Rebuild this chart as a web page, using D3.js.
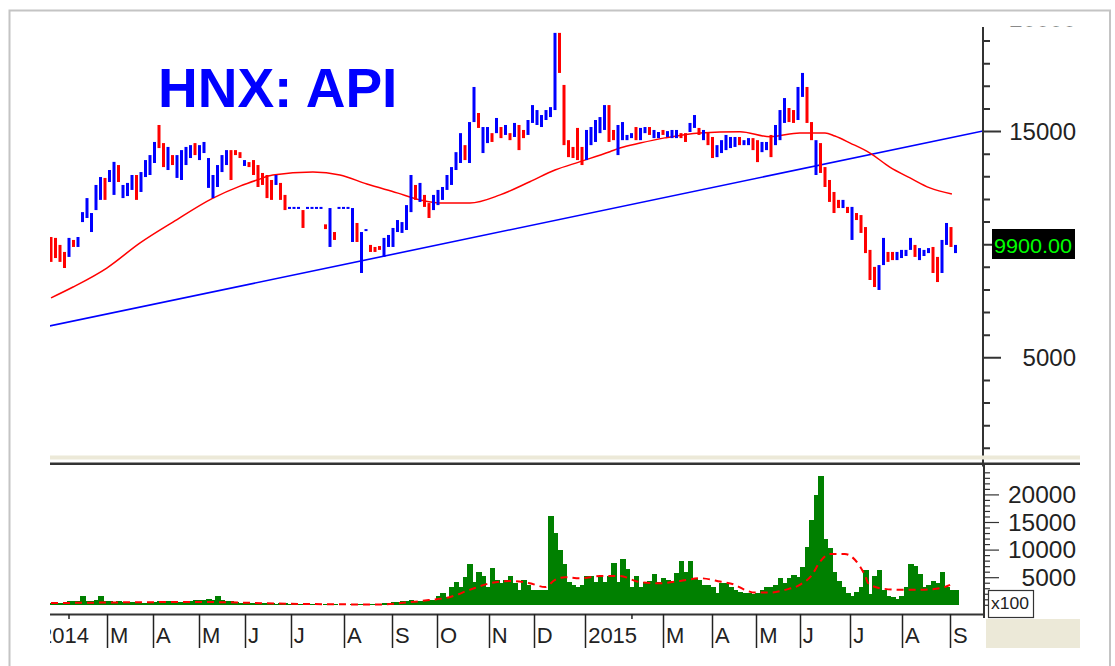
<!DOCTYPE html>
<html><head><meta charset="utf-8">
<script src="https://cdn.jsdelivr.net/npm/d3@7"></script>
<style>html,body{margin:0;padding:0;background:#fff;}svg{display:block;}</style>
</head><body>
<script>
// ---------- DATA ----------
const title = "HNX: API";
const lastPrice = 9900;
// price bars (each bar ≈ 2 sessions): high, low, direction (u = up/blue, d = down/red)
const priceHigh = [10340,10300,9990,9680,10300,10210,10340,11440,12060,11400,12640,12990,12950,13300,13660,13520,12640,12730,13080,13080,
13210,13740,13960,14540,15290,14490,14320,13960,13960,14180,14320,14400,14490,14400,14540,13830,13080,13520,13960,14180,
14180,14180,14090,13740,13650,13740,13520,13170,13080,12860,13080,12730,12200,11670,11670,11670,11530,11670,11670,11670,
11670,10900,11620,10560,11670,11670,11670,11620,10960,10560,10690,9990,9900,9940,10300,10430,10740,11090,11000,11750,
13080,12640,12730,12200,11840,12200,12420,12550,13080,13430,14090,14930,14400,15420,16970,15820,15200,15200,14930,15600,
15200,15290,14930,15380,15290,15070,15510,16170,15950,15730,15950,16080,19360,19360,17060,14620,14320,15160,14320,15070,
15200,15510,15640,16170,16170,15070,15290,15420,14850,14930,15200,15160,15200,15200,15070,14980,15070,15020,15070,15070,
14930,14930,15380,15730,15160,15070,14980,14760,14400,14620,14850,14760,14760,14760,14620,14710,14710,14620,14540,14540,
14850,15290,15950,16480,16040,15950,16970,17590,16970,15420,14620,14490,13430,12860,12330,11980,11980,11670,11670,11400,
11310,10780,9770,9020,9100,10300,9680,9680,9680,9770,9770,10300,9990,9850,9770,9850,9900,9460,10210,10960,10780,9990];
const priceLow = [9240,9410,9240,8970,9460,9900,9900,11000,11180,10560,11530,11980,11980,12770,12200,12770,12060,12150,12420,11980,
12330,12990,13080,13610,14270,13430,13300,13520,12950,12860,13520,13830,13960,13740,14050,12510,12060,12550,13210,13520,
12860,13960,13830,13480,13430,13080,12550,12640,12060,11980,12640,11980,11530,11580,11580,11580,10740,11580,11580,11580,
11580,10690,9900,10210,11580,11580,11580,10120,10120,8750,10610,9680,9680,9770,9460,9900,9900,10560,10520,10650,
11440,11980,11890,11670,11180,11530,11750,11980,12420,12640,13300,13610,13740,13610,15420,15160,14050,14490,14540,14930,
14710,14850,14620,14760,14180,14710,14850,15380,15290,15200,15510,15640,15950,17590,14400,13870,13830,13740,13520,13740,
14400,14540,14930,15070,14540,14620,13960,14620,14620,14710,14620,14620,14930,14850,14710,14710,14850,14760,14710,14710,
14710,14540,14980,15160,14850,14620,14400,13830,13870,14050,14180,14270,14320,14400,14400,14400,14180,13650,14090,14180,
13870,14400,14620,15380,15420,15380,15510,16530,15380,14620,13080,13170,12550,11890,11400,11620,11620,11400,10210,11090,
10520,9630,8440,8130,8000,9100,9240,9320,9320,9410,9500,9770,9460,9320,9500,9630,8750,8350,8750,9990,9900,9630];
const priceDir = ["dddduduuuu","uuduuduuud","uuuudduduu","uuduuuuuuu","dddudddddd",
"udduuuduuu","ududuuuudu","uddduuuuuu","ududduuuuu","uuduuduudu",
"dududduuuu","uuuddddddu","uuuudduuuu","duuduuduuu","dduududduu",
"uuuduudduu","duuudduudd","udddddudud","dddduudduu","uuduuudduu","du"].join("").split("");
// volume per bar (axis unit x100)
const volume = [500,500,450,500,700,700,800,1700,800,700,900,1700,800,700,600,700,600,500,600,500,
500,500,600,600,700,800,700,700,600,600,700,800,900,900,1000,1200,1000,1700,900,700,
700,600,500,400,400,400,400,500,400,400,300,400,400,200,150,150,250,150,150,150,
100,200,300,200,100,100,100,200,200,300,150,150,150,200,400,500,600,600,700,800,
900,700,700,800,900,1000,1700,2200,1500,3300,4300,3300,5100,7500,4300,6100,5300,3400,6800,4600,
4000,4600,5300,4000,2800,4600,3700,2800,2800,2800,2800,16200,13100,10000,7500,4300,3700,3300,3700,5300,
5300,4300,5300,4300,5300,7600,4300,8400,6600,3300,5300,3300,4300,4400,5700,4300,5000,4600,4400,5800,
8000,6000,8000,5000,4600,3700,3700,3300,2200,4000,4000,3300,2800,2500,2200,2200,2000,2200,2800,3300,
3300,3700,4900,4000,4900,5500,5200,7000,10600,15500,20000,23400,12000,10400,6000,4400,3300,2200,1600,2500,
3300,6400,2000,5300,6400,2800,1700,1500,1100,1600,3300,7500,7100,5700,3300,3700,4400,4000,6000,3300,2800,2800];
// moving averages read at points [bar, value]
const priceMA = [[0,7650],[4.9,8130],[12.4,8970],[19.8,10080],[27.1,11000],[36,12060],[42,12590],[45.8,12860],[49.3,13080],[58.2,13210],[64.2,13080],[70.2,12680],[76.9,12290],[82,11980],[86.4,11840],[93.1,11840],[99.8,12200],[106.4,12780],[112,13300],[117.6,13670],[124.2,14110],[126.4,14270],[130.9,14490],[136.4,14720],[144.2,14940],[153.1,14990],[159.8,14770],[166.4,14940],[172,14940],[174.2,14800],[177.6,14490],[182,14050],[186.4,13430],[190.9,12950],[195.3,12510],[200.2,12240]];
const volumeMA = [[0,400],[33,600],[55,250],[73,150],[77.6,400],[84,950],[88.7,1500],[93,2800],[97.6,4000],[102,4400],[106.4,4000],[109.8,3300],[112,4600],[114.2,5100],[117.6,4900],[122,5300],[126.4,5300],[130.9,4200],[135.3,4000],[139.8,4400],[144.2,4900],[148.7,4300],[152,3700],[154.2,2800],[156.4,2300],[159.8,2300],[163.1,2800],[166.4,3700],[169.1,5500],[170.9,7900],[173.1,9300],[176.4,9300],[178.7,8200],[179.8,7000],[181,5200],[181.6,4000],[184.2,3100],[188.7,2800],[193.1,2800],[197.6,3100],[199.8,3700]];
// trend line anchor points [bar, value]
const trendLine = [[0,6420],[200,14730]];
// month labels at bar positions
const monthTicks = [[-3.1,"2014"],[12.44,"M"],[22.67,"A"],[32.89,"M"],[43.1,"J"],[53.3,"J"],[65.1,"A"],[75.8,"S"],[85.8,"O"],[97.3,"N"],[107.3,"D"],[118.7,"2015"],[136,"M"],[146.9,"A"],[156.7,"M"],[166.4,"J"],[177.6,"J"],[189.1,"A"],[199.8,"S"]];
const smallTicks = [4.0,129.1];
const priceTickLabels = [5000,15000,20000];
const volumeTickLabels = [5000,10000,15000,20000];

// ---------- LAYOUT ----------
const W=1115,H=666;
const FONT = "'Liberation Sans', Arial, sans-serif";
const svg = d3.select("body").append("svg").attr("width",W).attr("height",H);
svg.append("rect").attr("width",W).attr("height",H).attr("fill","#fff");
svg.append("rect").attr("x",9.5).attr("y",10.5).attr("width",1100.5).attr("height",700).attr("fill","none").attr("stroke","#c4c4c4").attr("stroke-width",2);

const plotL=50, plotR=983;
const x = d3.scaleLinear().domain([0,201]).range([51,955.5]);
const yP = d3.scaleLinear().domain([0,20000]).range([471,18.4]);
const yV = d3.scaleLinear().domain([0,20000]).range([605.3,494.9]);

const defs = svg.append("defs");
defs.append("clipPath").attr("id","cp").append("rect").attr("x",plotL).attr("y",27).attr("width",plotR-plotL).attr("height",430);
defs.append("clipPath").attr("id","cv").append("rect").attr("x",plotL).attr("y",466).attr("width",plotR-plotL).attr("height",146);
defs.append("clipPath").attr("id","cx").append("rect").attr("x",plotL).attr("y",612).attr("width",plotR-plotL).attr("height",40);
defs.append("clipPath").attr("id","ca").append("rect").attr("x",plotR-2).attr("y",26.5).attr("width",130).attr("height",440);

// title
svg.append("text").attr("x",158).attr("y",107).attr("fill","#0000ff").attr("font-family",FONT)
  .attr("font-weight","bold").attr("font-size",55).text(title);

// ---------- PRICE PANEL ----------
const gp = svg.append("g").attr("clip-path","url(#cp)");
// trend line
const tSlope = (trendLine[1][1]-trendLine[0][1])/(trendLine[1][0]-trendLine[0][0]);
const tx0 = x.invert(plotL-2), tx1 = x.invert(plotR);
gp.append("line").attr("x1",x(tx0)).attr("y1",yP(trendLine[0][1]+tSlope*(tx0-trendLine[0][0])))
  .attr("x2",x(tx1)).attr("y2",yP(trendLine[0][1]+tSlope*(tx1-trendLine[0][0])))
  .attr("stroke","#0000ff").attr("stroke-width",1.6);
// MA
gp.append("path").datum(priceMA).attr("fill","none").attr("stroke","#ff0000").attr("stroke-width",1.5)
  .attr("d",d3.line().x(d=>x(d[0])).y(d=>yP(d[1])).curve(d3.curveMonotoneX));
// bars
const bars = priceHigh.map((h,i)=>({i,h,l:priceLow[i],d:priceDir[i]}));
gp.selectAll("rect.bar").data(bars).join("rect").attr("class","bar")
  .attr("x",d=>x(d.i)-1.5).attr("width",3)
  .attr("y",d=>yP(d.h)).attr("height",d=>Math.max(2,yP(d.l)-yP(d.h)))
  .attr("fill",d=>d.d==="u"?"#0000ff":"#ff0000");

// price axis
const ga = svg.append("g").attr("clip-path","url(#ca)");
ga.append("line").attr("x1",plotR).attr("x2",plotR).attr("y1",27).attr("y2",470).attr("stroke","#333").attr("stroke-width",2);
ga.selectAll("line.mt").data(d3.range(1000,20001,1000)).join("line").attr("class","mt")
  .attr("x1",plotR).attr("x2",d=>plotR+(d%5000===0?18:7)).attr("y1",d=>yP(d)).attr("y2",d=>yP(d))
  .attr("stroke","#333").attr("stroke-width",2);
ga.selectAll("text.pl").data(priceTickLabels).join("text").attr("class","pl")
  .attr("x",1076).attr("y",d=>yP(d)+8.5).attr("text-anchor","end").attr("font-family",FONT)
  .attr("font-size",24).attr("fill","#222").text(d=>d);
// last price box
svg.append("rect").attr("x",992).attr("y",229).attr("width",83).attr("height",30).attr("fill","#000");
svg.append("text").attr("x",994).attr("y",yP(lastPrice)+6).attr("font-family",FONT).attr("font-size",21)
  .attr("fill","#00ff00").attr("textLength",78).attr("lengthAdjust","spacingAndGlyphs").text(lastPrice.toFixed(2));

// separator
svg.append("rect").attr("x",plotL).attr("y",455.5).attr("width",1030).attr("height",4).attr("fill","#ece9d8");
svg.append("rect").attr("x",plotL).attr("y",462.5).attr("width",1030).attr("height",2.5).attr("fill","#333");

// ---------- VOLUME PANEL ----------
const gv = svg.append("g").attr("clip-path","url(#cv)");
const step = x(1)-x(0);
gv.selectAll("rect.v").data(volume).join("rect").attr("class","v")
  .attr("x",(d,i)=>x(i)-step/2).attr("width",step+1).attr("shape-rendering","crispEdges")
  .attr("y",d=>yV(d)).attr("height",d=>yV(0)-yV(d)).attr("fill","#008000");
gv.append("path").datum(volumeMA).attr("fill","none").attr("stroke","#ff0000").attr("stroke-width",2)
  .attr("stroke-dasharray","7,5")
  .attr("d",d3.line().x(d=>x(d[0])).y(d=>yV(d[1])).curve(d3.curveMonotoneX));

// volume axis
svg.append("line").attr("x1",plotR+1).attr("x2",plotR+1).attr("y1",465).attr("y2",618).attr("stroke","#333").attr("stroke-width",2);
svg.selectAll("line.vt").data(d3.range(0,25000,1000)).join("line").attr("class","vt")
  .attr("x1",plotR+1).attr("x2",d=>plotR+1+(d%5000===0&&d>0?15:6)).attr("y1",d=>yV(d)).attr("y2",d=>yV(d))
  .attr("stroke","#333").attr("stroke-width",1.2);
svg.selectAll("text.vl").data(volumeTickLabels).join("text").attr("class","vl")
  .attr("x",1076).attr("y",d=>yV(d)+8).attr("text-anchor","end").attr("font-family",FONT)
  .attr("font-size",23).attr("fill","#222").attr("textLength",d=>String(d).length*13.6).attr("lengthAdjust","spacingAndGlyphs").text(d=>d);
// x100 box
svg.append("rect").attr("x",988.5).attr("y",590.5).attr("width",45).attr("height",27).attr("fill","#fff").attr("stroke","#333").attr("stroke-width",1.2);
svg.append("text").attr("x",991).attr("y",609).attr("font-family",FONT).attr("font-size",16).attr("fill","#222")
  .attr("textLength",38).attr("lengthAdjust","spacingAndGlyphs").text("x100");
// bottom-right beige
svg.append("rect").attr("x",986).attr("y",619).attr("width",94).attr("height",29).attr("fill","#ece9d8");

// ---------- X AXIS ----------
svg.append("line").attr("x1",plotL).attr("x2",plotR+1).attr("y1",614.5).attr("y2",614.5).attr("stroke","#333").attr("stroke-width",2);
const gx = svg.append("g").attr("clip-path","url(#cx)");
gx.selectAll("line.xt").data(monthTicks).join("line").attr("class","xt")
  .attr("x1",d=>Math.round(x(d[0]))+0.5).attr("x2",d=>Math.round(x(d[0]))+0.5).attr("y1",614).attr("y2",648)
  .attr("stroke","#222").attr("stroke-width",1.5);
gx.selectAll("line.st").data(smallTicks).join("line").attr("class","st")
  .attr("x1",d=>x(d)).attr("x2",d=>x(d)).attr("y1",614).attr("y2",619).attr("stroke","#222").attr("stroke-width",1.5);
gx.selectAll("text.xl").data(monthTicks).join("text").attr("class","xl")
  .attr("x",d=>x(d[0])+3).attr("y",643).attr("font-family",FONT).attr("font-size",22).attr("fill","#222")
  .text(d=>d[1]);
</script>
</body></html>
